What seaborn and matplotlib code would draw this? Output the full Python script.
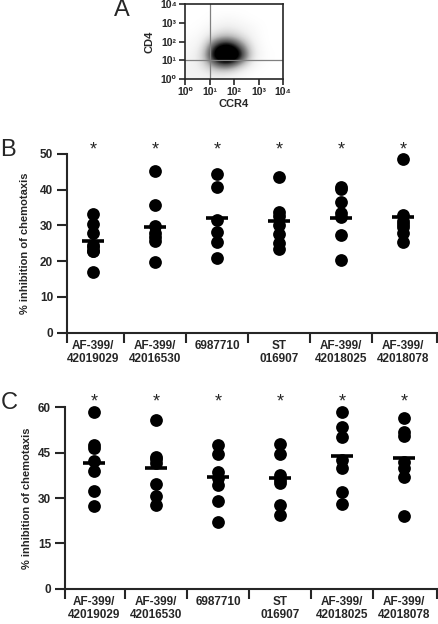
import numpy as np
import pandas as pd
import matplotlib
matplotlib.use("Agg")
import matplotlib.pyplot as plt
import seaborn as sns

# ---------------- data ----------------
compounds = ["AF-399/\n42019029", "AF-399/\n42016530", "6987710",
             "ST\n016907", "AF-399/\n42018025", "AF-399/\n42018078"]

# panel B: % inhibition of chemotaxis
b_42019029 = [33.2, 30.5, 28.0, 24.5, 24.0, 22.8, 22.8, 17.0]
b_42016530 = [45.3, 35.8, 29.9, 28.0, 26.9, 25.7, 19.9]
b_6987710 = [44.3, 40.8, 31.5, 28.3, 25.5, 21.0]
b_016907 = [43.5, 33.9, 32.7, 30.0, 27.5, 25.2, 23.3]
b_42018025 = [40.3, 40.7, 36.7, 33.5, 32.3, 27.4, 20.4]
b_42018078 = [48.5, 32.9, 31.3, 30.3, 29.5, 27.8, 25.5]
b_means = [25.7, 29.5, 32.0, 31.3, 32.2, 32.5]

# panel C: % inhibition of chemotaxis
c_42019029 = [58.3, 47.5, 46.5, 42.3, 39.0, 32.2, 27.3]
c_42016530 = [55.8, 43.5, 43.0, 41.5, 34.5, 30.5, 27.7]
c_6987710 = [47.5, 44.7, 38.5, 36.5, 34.2, 29.0, 22.2]
c_016907 = [48.0, 44.7, 37.5, 36.0, 35.0, 27.6, 24.4]
c_42018025 = [58.5, 53.5, 50.2, 42.5, 40.0, 32.0, 28.0]
c_42018078 = [56.5, 51.9, 50.5, 42.0, 40.0, 37.0, 24.1]
c_means = [41.5, 39.8, 36.8, 36.6, 43.8, 43.1]

significance = ["*", "*", "*", "*", "*", "*"]

b_yticks = [0, 10, 20, 30, 40, 50]
c_yticks = [0, 15, 30, 45, 60]

# panel A: flow cytometry density (relative counts per half-decade bin,
# rows = CD4 low->high, columns = CCR4 low->high), estimated from the dot plot
flow_decades = [0, 1, 2, 3, 4]
flow_density = [
    [4, 4, 5, 4, 2, 0, 0, 0],
    [4, 7, 24, 30, 14, 3, 0, 0],
    [3, 10, 50, 70, 44, 7, 1, 0],
    [2, 6, 38, 50, 28, 6, 0, 0],
    [1, 3, 12, 16, 10, 3, 0, 0],
    [0, 1, 4, 6, 4, 2, 0, 0],
    [0, 0, 1, 2, 1, 0, 0, 0],
    [0, 0, 0, 0, 0, 0, 0, 0],
]
flow_labels = ["10⁰", "10¹", "10²", "10³", "10⁴"]

# ---------------- style ----------------
sns.set_style("ticks")
plt.rcParams["font.family"] = ["Liberation Sans", "DejaVu Sans"]
plt.rcParams["axes.linewidth"] = 1.5

W, H = 439, 624
fig = plt.figure(figsize=(W / 100, H / 100), dpi=100)


def frac(x0, y_top, x1, y_bot):
    return [x0 / W, 1 - y_bot / H, (x1 - x0) / W, (y_bot - y_top) / H]


def long_df(groups):
    rows = []
    for name, vals in zip(compounds, groups):
        for v in vals:
            rows.append({"compound": name, "value": v})
    return pd.DataFrame(rows)


def dot_panel(rect, groups, means, yticks, ymax, xlim, star_y, label_x):
    ax = fig.add_axes(rect)
    df = long_df(groups)
    sns.stripplot(data=df, x="compound", y="value", order=compounds,
                  jitter=False, color="black", size=9.2, linewidth=0, ax=ax,
                  clip_on=False, zorder=3)
    pos = np.arange(len(compounds))
    ax.hlines(means, pos - 0.17, pos + 0.17, color="black", lw=2.6, zorder=4)
    ax.set_xlim(*xlim)
    ax.set_ylim(0, ymax)
    ax.set_yticks(yticks)
    ax.set_yticklabels([str(t) for t in yticks], fontsize=8.5, fontweight="bold")
    ax.set_xticks(pos)
    ax.set_xticklabels(compounds, fontsize=8.5, fontweight="bold", linespacing=1.05)
    ax.set_xticks([xlim[0] + 0.003, 0.5, 1.5, 2.5, 3.5, 4.5, xlim[1] - 0.003], minor=True)
    ax.tick_params(axis="x", which="major", length=0, pad=5.5)
    ax.tick_params(axis="x", which="minor", length=7, width=1.5, direction="out")
    ax.tick_params(axis="y", length=7, width=1.5, direction="out", pad=3)
    ax.set_xlabel("")
    ax.set_ylabel("% inhibition of chemotaxis", fontsize=8, fontweight="bold")
    ax.yaxis.label.set_va("center")
    ax.yaxis.set_label_coords(label_x, 0.5)
    sns.despine(ax=ax)
    for i, s in enumerate(significance):
        ax.text(i, star_y, s, ha="center", va="baseline", fontsize=13, clip_on=False)
    return ax


# panel B
dot_panel(frac(67, 154, 437, 332.7),
          [b_42019029, b_42016530, b_6987710, b_016907, b_42018025, b_42018078],
          b_means, b_yticks, 50, (-0.419, 5.548), 49.8, (25 - 67) / 370)
fig.text(8 / W, 1 - 150 / H, "B", fontsize=17, ha="center", va="center")

# panel C
dot_panel(frac(65, 407.3, 437.3, 588.7),
          [c_42019029, c_42016530, c_6987710, c_016907, c_42018025, c_42018078],
          c_means, c_yticks, 60, (-0.468, 5.537), 60.3, (27 - 65) / 372.3)
fig.text(9 / W, 1 - 403 / H, "C", fontsize=17, ha="center", va="center")

# panel A
axA = fig.add_axes(frac(185, 4, 283, 79))
axA.imshow(np.array(flow_density, dtype=float), extent=(0, 4, 0, 4), origin="lower",
           cmap="Greys", vmin=0, vmax=40, interpolation="bicubic", aspect="auto")
axA.axvline(1, color="#808080", lw=0.9)
axA.axhline(1, color="#808080", lw=0.9)
axA.set_xlim(0, 4)
axA.set_ylim(0, 4)
axA.set_xticks(flow_decades)
axA.set_yticks(flow_decades)
axA.set_xticklabels(flow_labels, fontsize=7.5, fontweight="bold")
axA.set_yticklabels(flow_labels, fontsize=7.5, fontweight="bold")
axA.tick_params(length=4, width=1.2, direction="out", pad=2)
for sp in axA.spines.values():
    sp.set_linewidth(1.2)
axA.set_xlabel("CCR4", fontsize=8, fontweight="bold", labelpad=1)
axA.set_ylabel("CD4", fontsize=8, fontweight="bold", labelpad=4)
fig.text(122 / W, 1 - 10 / H, "A", fontsize=17, ha="center", va="center")

fig.savefig("out.png", dpi=100, facecolor="white")
